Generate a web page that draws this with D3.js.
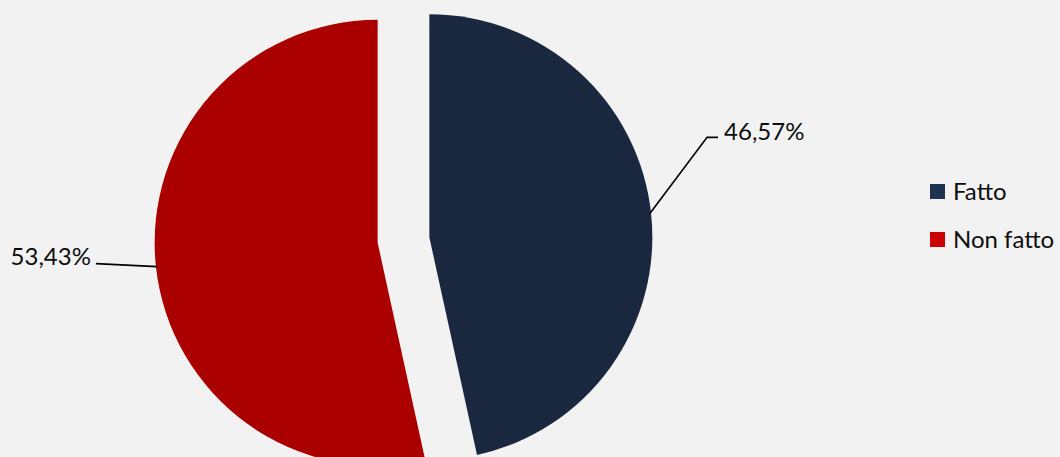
<!DOCTYPE html>
<html><head><meta charset="utf-8">
<script src="https://cdn.jsdelivr.net/npm/d3@7/dist/d3.min.js"></script>
<style>html,body{margin:0;padding:0;background:#f2f2f2;overflow:hidden}</style>
</head><body>
<svg id="c" width="1060" height="457"></svg>
<script>
const categories = ["Fatto", "Non fatto"];
const values = [46.57, 53.43];
const labels = ["46,57%", "53,43%"];
const sliceColors = ["#1a283f", "#aa0000"];
const legendColors = ["#1f3351", "#cc0000"];

const W = 1060, H = 457;
const svg = d3.select("#c");
svg.append("rect").attr("width", W).attr("height", H).attr("fill", "#f2f2f2");

const cx = 403.5, cy = 240, R = 223, explode = 26;
const data = categories.map((c, i) => ({cat: c, value: values[i], label: labels[i], i}));
const pie = d3.pie().sort(null).value(d => d.value).startAngle(0).endAngle(2 * Math.PI);
const arcs = pie(data);
const arc = d3.arc().innerRadius(0).outerRadius(R);

const g = svg.append("g").attr("transform", `translate(${cx},${cy})`);

function offset(a) {
  const m = (a.startAngle + a.endAngle) / 2;
  return [explode * Math.sin(m), -explode * Math.cos(m)];
}

g.selectAll("path.slice").data(arcs).enter().append("path")
  .attr("class", "slice")
  .attr("d", arc)
  .attr("fill", (d, i) => sliceColors[i])
  .attr("transform", d => { const o = offset(d); return `translate(${o[0]},${o[1]})`; });

// labels with leader lines
const font = "Lato, 'Open Sans', sans-serif";
arcs.forEach((a, i) => {
  const m = (a.startAngle + a.endAngle) / 2;
  const o = offset(a);
  const sx = o[0] + (R - 1) * Math.sin(m), sy = o[1] - (R - 1) * Math.cos(m);
  let pts, tx, ty, anchor;
  if (i === 0) {
    const ex = sx + 57, ey = sy - 76;
    pts = [[sx, sy], [ex, ey], [ex + 11, ey]];
    tx = ex + 17; ty = ey + 3; anchor = "start";
  } else {
    const ex = sx - 61, ey = sy - 3;
    pts = [[sx, sy], [ex, ey]];
    tx = ex - 5; ty = ey + 1; anchor = "end";
  }
  g.append("path").attr("d", d3.line()(pts)).attr("fill", "none")
    .attr("stroke", "#000").attr("stroke-width", 1.6);
  g.append("text").attr("x", tx).attr("y", ty).attr("text-anchor", anchor)
    .attr("font-family", font).attr("font-size", 24).attr("fill", "#0d0d0d")
    .text(a.data.label);
});

// legend
const leg = svg.append("g").attr("transform", "translate(930,184)");
const ly = d3.scalePoint().domain(categories).range([0, 48]);
categories.forEach((c, i) => {
  leg.append("rect").attr("x", 0).attr("y", ly(c)).attr("width", 15).attr("height", 15)
    .attr("fill", legendColors[i]);
  leg.append("text").attr("x", 23).attr("y", ly(c) + 16)
    .attr("font-family", font).attr("font-size", 24).attr("fill", "#0d0d0d").text(c);
});
</script>
</body></html>
